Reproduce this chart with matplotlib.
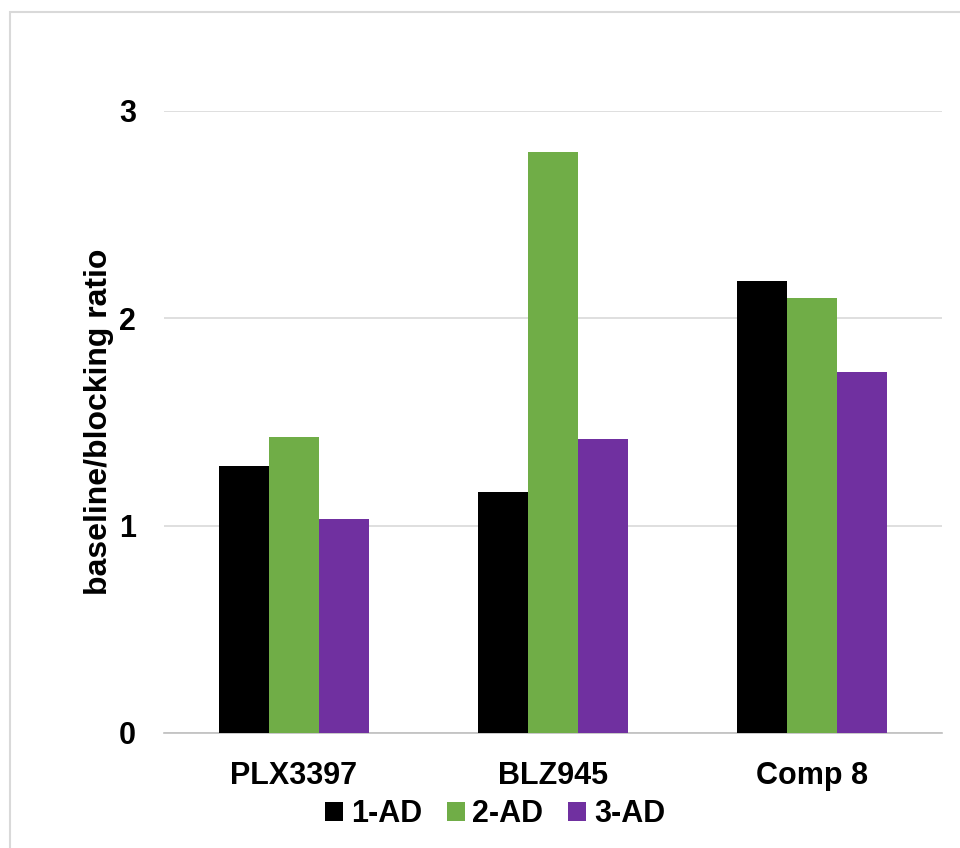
import numpy as np
import matplotlib.pyplot as plt
from matplotlib.patches import Rectangle

plt.rcParams['font.family'] = ['Liberation Sans', 'DejaVu Sans']
plt.rcParams['font.weight'] = 'bold'

drugs = ['PLX3397', 'BLZ945', 'Comp 8']
series = ['1-AD', '2-AD', '3-AD']
ad1 = [1.29, 1.16, 2.18]
ad2 = [1.43, 2.80, 2.10]
ad3 = [1.03, 1.42, 1.74]
colors = ['#000000', '#70ad47', '#7030a0']

fig = plt.figure(figsize=(9.6, 8.48), dpi=100)
# light frame round the chart area
fig.patches.append(Rectangle((10/960, -0.1), 1.2, 1 - 12/848 + 0.1,
                             transform=fig.transFigure, fill=False,
                             edgecolor='#d9d9d9', linewidth=1.5))
ax = fig.add_axes([164/960, 1 - 733/848, 778/960, (733 - 111)/848])

x = np.arange(len(drugs))
w = 0.193
for i, (vals, c, lab) in enumerate(zip([ad1, ad2, ad3], colors, series)):
    ax.bar(x + (i - 1)*w, vals, w, color=c, label=lab, zorder=3)

ax.set_xlim(-0.5, 2.5)
ax.set_ylim(0, 3)
ax.set_yticks([0, 1, 2, 3])
ax.yaxis.grid(True, color='#d9d9d9', linewidth=1.2, zorder=0)
for s in ['top', 'right', 'left']:
    ax.spines[s].set_visible(False)
ax.spines['bottom'].set_color('#bfbfbf')
ax.spines['bottom'].set_linewidth(1.2)
ax.tick_params(length=0, labelsize=22)
ax.tick_params(axis='x', pad=20)
ax.tick_params(axis='y', pad=20)
ax.set_xticks(x)
ax.set_xticklabels(drugs, fontweight='bold')
for t in ax.get_yticklabels():
    t.set_fontweight('bold')
ax.set_ylabel('baseline/blocking ratio', fontsize=23, fontweight='bold', labelpad=4)

ax.legend(loc='center', bbox_to_anchor=(495/960, (848 - 814)/848), bbox_transform=fig.transFigure,
          ncol=3, frameon=False, fontsize=22, handlelength=0.6, handleheight=0.6,
          handletextpad=0.25, columnspacing=0.8)

fig.savefig('out.png', dpi=100)
